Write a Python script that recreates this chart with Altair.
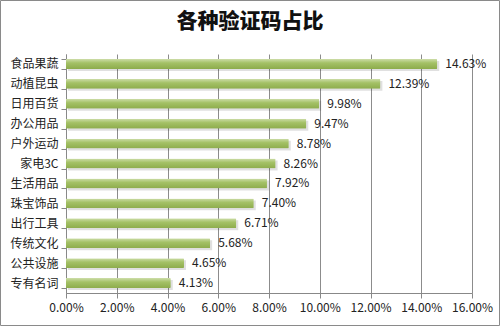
import altair as alt
import pandas as pd

categories = ["食品果蔬", "动植昆虫", "日用百货", "办公用品", "户外运动", "家电3C",
              "生活用品", "珠宝饰品", "出行工具", "传统文化", "公共设施", "专有名词"]
values = [0.1463, 0.1239, 0.0998, 0.0947, 0.0878, 0.0826,
          0.0792, 0.0740, 0.0671, 0.0568, 0.0465, 0.0413]
x_ticks = [0, 0.02, 0.04, 0.06, 0.08, 0.10, 0.12, 0.14, 0.16]
title_text = "各种验证码占比"

df = pd.DataFrame({"cat": categories, "val": values})
FONT = "Noto Sans CJK SC"

W, H = 406, 239
PL, PT = 66, 54

y_enc = alt.Y("cat:N", sort=categories, title=None,
              scale=alt.Scale(paddingInner=0.5, paddingOuter=0.25),
              axis=alt.Axis(labelFont=FONT, labelFontSize=12, labelColor="#222222",
                            labelPadding=3, tickSize=5, tickColor="#888888",
                            domainColor="#888888", tickBand="extent",
                            grid=False))
x_enc = alt.X("val:Q", title=None,
              scale=alt.Scale(domain=[0, 0.16], nice=False),
              axis=alt.Axis(values=x_ticks, format=".2%", labelFont=FONT,
                            labelFontSize=12, labelColor="#222222",
                            labelOverlap=False, labelFlush=False,
                            tickSize=5, tickColor="#888888", domainColor="#888888",
                            gridColor="#8c8c8c", gridWidth=1, labelPadding=4))

base = alt.Chart(df)

shadow = base.mark_bar(color="#000000", opacity=0.12).encode(
    x=x_enc, y=y_enc, xOffset=alt.value(2), yOffset=alt.value(2))

bars = base.mark_bar(
    color=alt.Gradient(gradient="linear", x1=0, x2=0, y1=0, y2=1,
                       stops=[alt.GradientStop(offset=0, color="#cddda9"),
                              alt.GradientStop(offset=0.4, color="#a4c166"),
                              alt.GradientStop(offset=1, color="#8dac4c")]),
    cornerRadiusBottomRight=1, cornerRadiusTopRight=1
).encode(x=x_enc, y=y_enc)

labels = base.mark_text(align="left", baseline="middle", dx=8, font=FONT,
                        fontSize=12, color="#222222").encode(
    x="val:Q", y=alt.Y("cat:N", sort=categories),
    text=alt.Text("val:Q", format=".2%"))

title = alt.Chart(pd.DataFrame({"t": [title_text]})).mark_text(
    font=FONT, fontSize=21, fontWeight=900, color="#111111",
    align="center", baseline="middle").encode(
    x=alt.value(250 - PL), y=alt.value(22 - PT), text="t:N")

border = alt.Chart(pd.DataFrame({"a": [0]})).mark_rect(
    fillOpacity=0, stroke="#8a8a8a", strokeWidth=1).encode(
    x=alt.value(-PL + 0.5), x2=alt.value(500 - PL - 0.5),
    y=alt.value(-PT + 0.5), y2=alt.value(326 - PT - 0.5))

chart = alt.layer(shadow, bars, labels, title, border).properties(
    width=W, height=H,
    autosize=alt.AutoSizeParams(type="none"),
    padding={"left": PL, "top": PT, "right": 500 - PL - W, "bottom": 326 - PT - H},
    background="white"
).configure_view(stroke=None)

chart.save("out.html", embed_options={"renderer": "svg", "actions": False})
